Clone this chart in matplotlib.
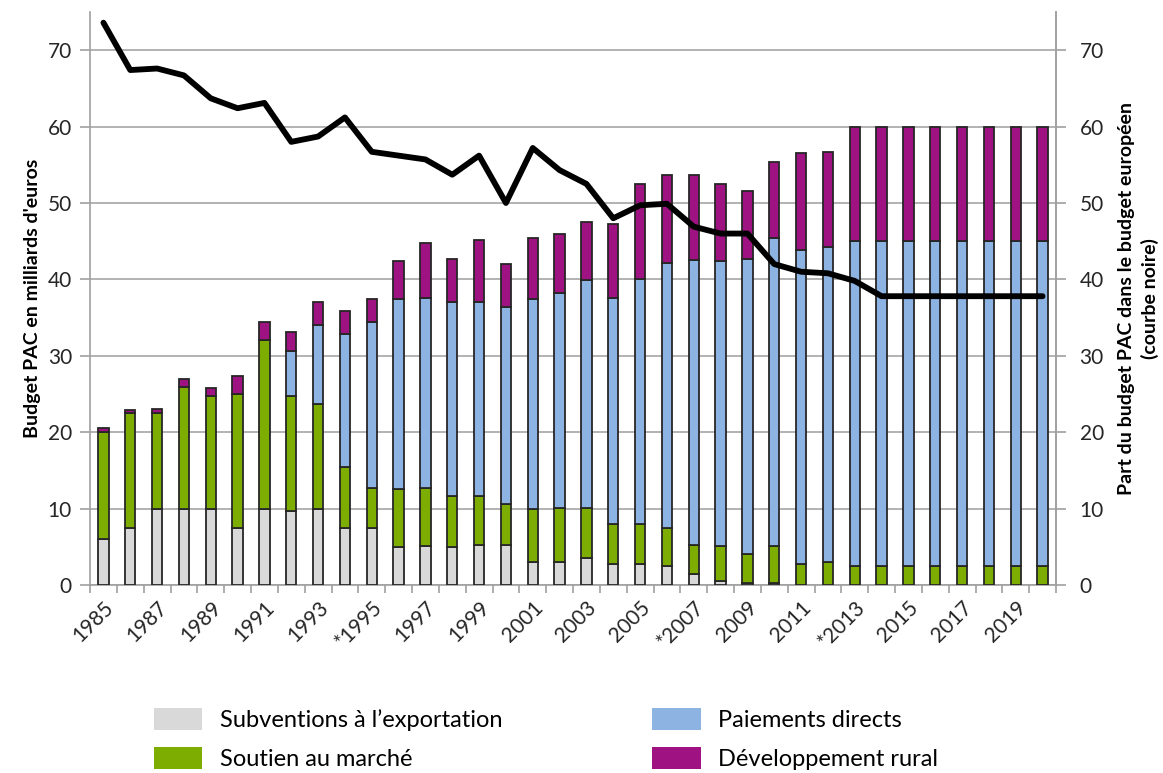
import numpy as np
import matplotlib
matplotlib.use("Agg")
import matplotlib.pyplot as plt
from matplotlib.patches import Patch

plt.rcParams["font.family"] = ["Lato", "DejaVu Sans"]

# ------------------------------------------------------
# DATA (milliards d'euros, one value per segment)
# ------------------------------------------------------

years = list(range(1985, 2021))

export = [6.0, 7.5, 10.0, 10.0, 10.0, 7.5, 10.0, 9.7, 10.0, 7.5,
          7.5, 5.0, 5.1, 5.0, 5.2, 5.2, 3.0, 3.0, 3.6, 2.7,
          2.7, 2.5, 1.5, 0.5, 0.3, 0.2, 0.0, 0.0, 0.0, 0.0,
          0.0, 0.0, 0.0, 0.0, 0.0, 0.0]
market = [14.0, 15.0, 12.5, 15.9, 14.7, 17.5, 22.1, 15.0, 13.7, 8.0,
          5.2, 7.6, 7.6, 6.7, 6.5, 5.4, 6.9, 7.1, 6.5, 5.3,
          5.3, 5.0, 3.7, 4.6, 3.7, 4.9, 2.7, 3.0, 2.5, 2.5,
          2.5, 2.5, 2.5, 2.5, 2.5, 2.5]
direct = [0.0, 0.0, 0.0, 0.0, 0.0, 0.0, 0.0, 5.9, 10.3, 17.4,
          21.7, 24.8, 24.9, 25.3, 25.3, 25.8, 27.5, 28.1, 29.8, 29.5,
          32.1, 34.6, 37.4, 37.3, 38.7, 40.3, 41.2, 41.3, 42.5, 42.5,
          42.5, 42.5, 42.5, 42.5, 42.5, 42.5]
rural = [0.5, 0.4, 0.6, 1.1, 1.1, 2.3, 2.3, 2.5, 3.1, 3.0,
         3.0, 5.0, 7.1, 5.7, 8.2, 5.6, 8.0, 7.8, 7.6, 9.8,
         12.4, 11.5, 11.0, 10.1, 8.9, 10.0, 12.6, 12.4, 15.0, 15.0,
         15.0, 15.0, 15.0, 15.0, 15.0, 15.0]

# part du budget PAC dans le budget europeen (%)
share = [73.6, 67.4, 67.6, 66.7, 63.7, 62.4, 63.1, 58.0, 58.7, 61.2,
         56.7, 56.2, 55.7, 53.7, 56.2, 50.0, 57.2, 54.3, 52.5, 48.0,
         49.7, 49.9, 46.9, 46.0, 46.0, 42.0, 41.0, 40.8, 39.8, 37.8,
         37.8, 37.8, 37.8, 37.8, 37.8, 37.8]

tick_labels = ["1985", "1987", "1989", "1991", "1993", "*1995", "1997",
               "1999", "2001", "2003", "2005", "*2007", "2009", "2011",
               "*2013", "2015", "2017", "2019"]

labels = ["Subventions à l\u2019exportation", "Soutien au marché",
          "Paiements directs", "Développement rural"]
colors = ["#d9d9d9", "#7cad00", "#8db3e2", "#9e1281"]

# ------------------------------------------------------
# PLOT
# ------------------------------------------------------

fig = plt.figure(figsize=(11.63, 7.73), dpi=100)
ax = fig.add_axes([0.0774, 0.2432, 0.8306, 0.7413])

x = np.arange(len(years))
bottom = np.zeros(len(years))
for vals, col in zip([export, market, direct, rural], colors):
    vals = np.array(vals)
    ax.bar(x, vals, bottom=bottom, width=0.38, color=col,
           edgecolor="#262626", linewidth=1.3, zorder=3)
    bottom += vals

ax.set_xlim(-0.5, len(years) - 0.5)
ax.set_ylim(0, 75)
ax.set_yticks(range(0, 80, 10))
ax.yaxis.grid(True, color="#a6a6a6", linewidth=1.2, zorder=0)

grey = "#a0a0a0"
ax.spines["top"].set_visible(False)
for s in ["left", "right", "bottom"]:
    ax.spines[s].set_color(grey)
    ax.spines[s].set_linewidth(1.2)

ax.set_xticks(x[::2])
ax.set_xticklabels(tick_labels, rotation=45, ha="right",
                   rotation_mode="anchor", fontsize=15, color="#262626")
ax.set_xticks(np.arange(-0.5, len(years), 1), minor=True)
ax.tick_params(axis="x", which="major", length=0, pad=9)
ax.tick_params(axis="x", which="minor", length=6, color=grey, width=1.2)
ax.tick_params(axis="y", length=7, color=grey, width=1.2,
               labelsize=15, labelcolor="#262626", pad=6)
ax.set_ylabel("Budget PAC en milliards d'euros", fontsize=14,
              fontweight="bold", labelpad=5)

ax2 = ax.twinx()
ax2.plot(x, share, color="black", linewidth=4.2, zorder=5,
         solid_capstyle="round", solid_joinstyle="round")
ax2.set_ylim(0, 75)
ax2.set_yticks(range(0, 80, 10))
ax2.tick_params(axis="y", length=7, color=grey, width=1.2,
                labelsize=15, labelcolor="#262626", pad=10)
for s in ["top", "left", "bottom"]:
    ax2.spines[s].set_visible(False)
ax2.spines["right"].set_color(grey)
ax2.spines["right"].set_linewidth(1.2)
ax2.set_ylabel("Part du budget PAC dans le budget européen\n(courbe noire)",
               fontsize=14, fontweight="bold", labelpad=10,
               linespacing=1.4)

handles = [Patch(facecolor=c, edgecolor="none") for c in colors]
fig.legend(handles, labels, loc="upper left", ncol=2,
           bbox_to_anchor=(0.116, 0.108), frameon=False, fontsize=17,
           handlelength=2.05, handleheight=1.05, handletextpad=0.75,
           columnspacing=6.35, labelspacing=0.65, borderpad=0.3)

fig.savefig("out.png", dpi=100)
